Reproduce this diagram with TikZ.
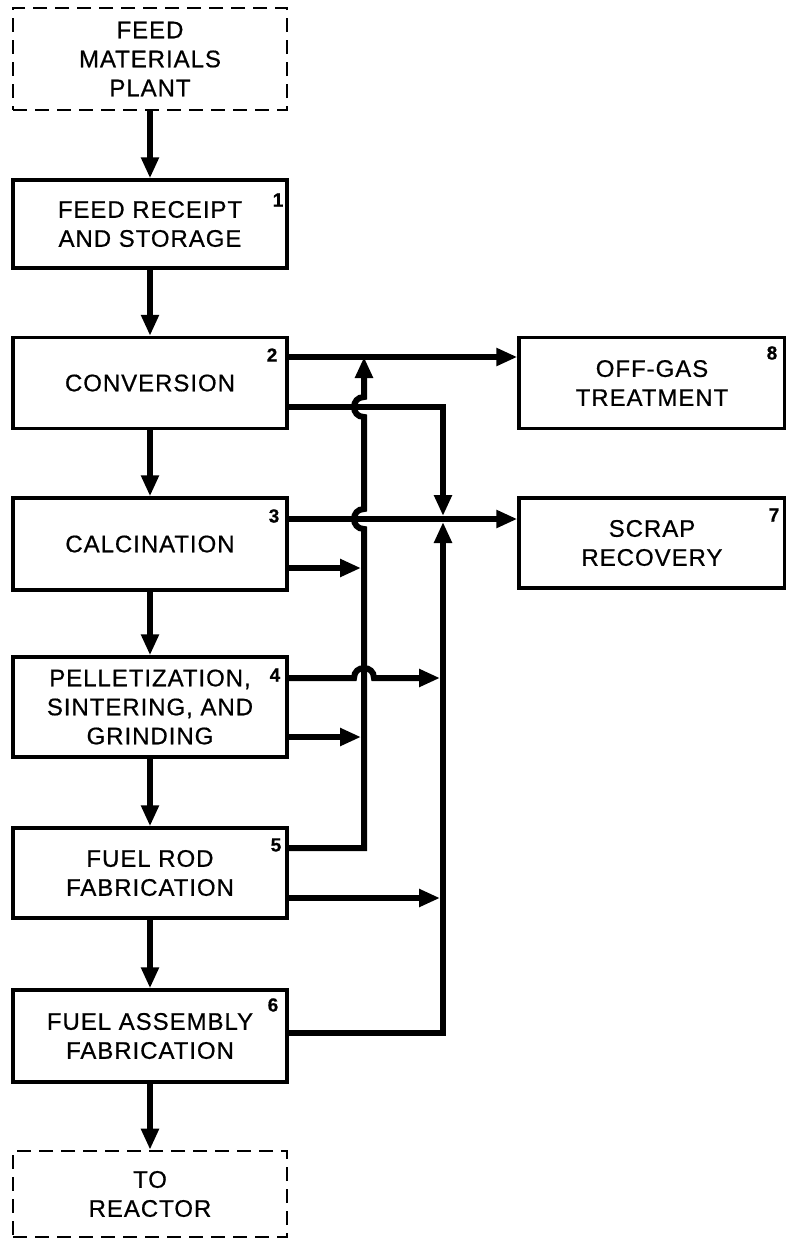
\documentclass[tikz,border=0pt]{standalone}
\usepackage{fontspec}
\setmainfont{Liberation Sans}[LetterSpace=4, FakeBold=0.6]
\usetikzlibrary{arrows.meta}
\begin{document}
\begin{tikzpicture}[x=1pt,y=-1pt,
  box/.style={draw, line width=3.4pt, minimum width=274pt, align=center,
     font=\fontsize{24}{29}\selectfont, inner sep=0pt},
  dbox/.style={box, line width=2.6pt, dash pattern=on 14pt off 8pt},
  rbox/.style={box, minimum width=266pt},
  num/.style={font=\fontsize{19}{19}\selectfont\bfseries, inner sep=0pt},
  flow/.style={line width=6pt, -{Triangle[length=21pt,width=17pt]}}
]
\useasboundingbox (0,0) rectangle (785,1240);
% main column
\node[dbox, minimum height=102pt] (fmp) at (150,59) {FEED\\MATERIALS\\PLANT};
\node[box, minimum height=88pt] (b1) at (150,224) {FEED RECEIPT\\AND STORAGE};
\node[box, minimum height=91pt] (b2) at (150,383) {CONVERSION};
\node[box, minimum height=92pt] (b3) at (150,544) {CALCINATION};
\node[box, minimum height=100pt] (b4) at (150,707) {PELLETIZATION,\\SINTERING, AND\\GRINDING};
\node[box, minimum height=90pt] (b5) at (150,873) {FUEL ROD\\FABRICATION};
\node[box, minimum height=92pt] (b6) at (150,1036) {FUEL ASSEMBLY\\FABRICATION};
\node[dbox, minimum height=86pt] (rx) at (150,1194) {TO\\REACTOR};
% right column
\node[rbox, minimum height=91pt] (b8) at (652,383) {OFF-GAS\\TREATMENT};
\node[rbox, minimum height=90pt] (b7) at (652,543) {SCRAP\\RECOVERY};
% numbers
\node[num] (n1) at (278,200) {1};
\node[num] (n2) at (272,355) {2};
\node[num] (n3) at (274,516) {3};
\node[num] (n4) at (275,675) {4};
\node[num] (n5) at (276,845) {5};
\node[num] (n6) at (273,1005) {6};
\node[num] (n8) at (772,353) {8};
\node[num] (n7) at (774,515) {7};
% collector lines
\coordinate (A) at (364,357);
% main flow
\draw[flow] (fmp) -- (b1);
\draw[flow] (b1) -- (b2);
\draw[flow] (b2) -- (b3);
\draw[flow] (b3) -- (b4);
\draw[flow] (b4) -- (b5);
\draw[flow] (b5) -- (b6);
\draw[flow] (b6) -- (rx);
% conversion outputs
\draw[flow] (b2.east |- 0,357) -- (b8.west |- 0,357);
\draw[flow] (b2.east |- 0,407) -- (443,407) -- (443,516);
% calcination outputs
\draw[flow] (b3.east |- 0,519) -- (b7.west |- 0,519);
\draw[flow] (b3.east |- 0,568) -- (361,568);
% pelletization outputs
\draw[flow] (b4.east |- 0,678) -- (354,678) .. controls (354,664.7) and (374,664.7) .. (374,678) -- (440,678);
\draw[flow] (b4.east |- 0,737) -- (361,737);
% fuel rod outputs: line A up to off-gas line
\draw[flow] (b5.east |- 0,848) -- (364,848) -- (364,529)
   .. controls (350.7,529) and (350.7,509) .. (364,509) -- (364,417)
   .. controls (350.7,417) and (350.7,397) .. (364,397) -- (A);
\draw[flow] (b5.east |- 0,898) -- (440,898);
% fuel assembly output: line B up to scrap line
\draw[flow] (b6.east |- 0,1033) -- (443,1033) -- (443,522);
\end{tikzpicture}
\end{document}
